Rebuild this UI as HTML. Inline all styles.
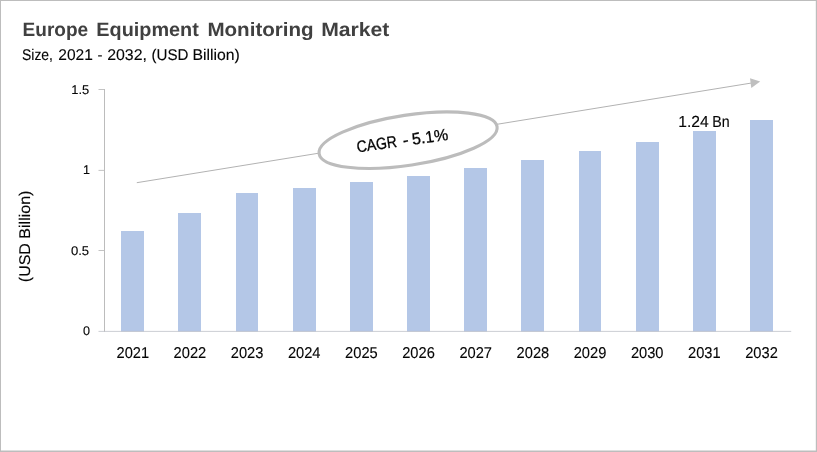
<!DOCTYPE html>
<html><head><meta charset="utf-8"><title>Europe Equipment Monitoring Market</title>
<style>
html,body{margin:0;padding:0;background:#fff;}
body{width:817px;height:452px;overflow:hidden;font-family:"Liberation Sans",sans-serif;}
svg{display:block;font-family:"Liberation Sans",sans-serif;text-rendering:geometricPrecision;}
text{stroke:#050505;stroke-width:0.12px;}
text.cagr{stroke-width:0.3px;}
text.ttl{stroke:none;}
</style></head><body>
<svg width="817" height="452" viewBox="0 0 817 452">
<rect x="0" y="0" width="817" height="452" fill="#ffffff"/>
<!-- frame -->
<rect x="0" y="0" width="817" height="1" fill="#bdbdbd"/>
<rect x="0" y="0" width="1" height="452" fill="#bdbdbd"/>
<rect x="815.8" y="0" width="1.2" height="452" fill="#bdbdbd"/>
<rect x="0" y="450.5" width="817" height="1.5" fill="#bdbdbd"/>
<!-- titles -->
<text class="ttl" y="36.1" font-size="19.4" font-weight="bold" fill="#404040"><tspan x="22.6" textLength="65.6" lengthAdjust="spacingAndGlyphs">Europe</tspan> <tspan x="96.3" textLength="102.5" lengthAdjust="spacingAndGlyphs">Equipment</tspan> <tspan x="207.4" textLength="106.3" lengthAdjust="spacingAndGlyphs">Monitoring</tspan> <tspan x="321.2" textLength="68.2" lengthAdjust="spacingAndGlyphs">Market</tspan></text>
<text y="59.5" font-size="15.5" fill="#050505"><tspan x="22" textLength="31" lengthAdjust="spacingAndGlyphs">Size,</tspan> <tspan x="58.3" textLength="34.6" lengthAdjust="spacingAndGlyphs">2021</tspan> <tspan x="97.6" textLength="5" lengthAdjust="spacingAndGlyphs">-</tspan> <tspan x="107.2" textLength="39.8" lengthAdjust="spacingAndGlyphs">2032,</tspan> <tspan x="151.5" textLength="37" lengthAdjust="spacingAndGlyphs">(USD</tspan> <tspan x="192.4" textLength="47.3" lengthAdjust="spacingAndGlyphs">Billion)</tspan></text>
<!-- arrow line -->
<line x1="136.8" y1="182.7" x2="751" y2="83.1" stroke="#b2b2b2" stroke-width="1"/>
<polygon points="760.2,81.5 750,78.3 751.3,87.9" fill="#bfbfbf"/>
<!-- bars -->
<rect x="121" y="231" width="23" height="100.6" fill="#b4c7e7"/>
<rect x="178" y="213" width="23" height="118.6" fill="#b4c7e7"/>
<rect x="236" y="193" width="22" height="138.6" fill="#b4c7e7"/>
<rect x="293" y="188" width="23" height="143.6" fill="#b4c7e7"/>
<rect x="350" y="182" width="23" height="149.6" fill="#b4c7e7"/>
<rect x="407" y="176" width="23" height="155.6" fill="#b4c7e7"/>
<rect x="464" y="168" width="23" height="163.6" fill="#b4c7e7"/>
<rect x="521" y="160" width="23" height="171.6" fill="#b4c7e7"/>
<rect x="579" y="151" width="22" height="180.6" fill="#b4c7e7"/>
<rect x="636" y="142" width="23" height="189.6" fill="#b4c7e7"/>
<rect x="693" y="131" width="23" height="200.6" fill="#b4c7e7"/>
<rect x="750" y="120" width="23" height="211.6" fill="#b4c7e7"/>

<!-- axes -->
<line x1="104.5" y1="89" x2="104.5" y2="331.8" stroke="#bcbcbc" stroke-width="1"/>
<line x1="98.5" y1="331.4" x2="791.2" y2="331.4" stroke="#bfc2c8" stroke-width="0.8"/>
<line x1="98.5" y1="89.5" x2="104.5" y2="89.5" stroke="#bcbcbc" stroke-width="0.9"/>
<line x1="98.5" y1="170.4" x2="104.5" y2="170.4" stroke="#bcbcbc" stroke-width="0.9"/>
<line x1="98.5" y1="250.5" x2="104.5" y2="250.5" stroke="#bcbcbc" stroke-width="0.9"/>
<!-- y labels -->
<g font-size="12.6" fill="#050505" text-anchor="end">
<text x="89.3" y="94.2" textLength="18" lengthAdjust="spacingAndGlyphs">1.5</text>
<text x="89.9" y="174.1">1</text>
<text x="89.1" y="254.5" textLength="18.2" lengthAdjust="spacingAndGlyphs">0.5</text>
<text x="90" y="335">0</text>
</g>
<!-- x labels -->
<text x="132.8" y="358.3" text-anchor="middle" font-size="15.6" fill="#050505" textLength="32.6" lengthAdjust="spacingAndGlyphs">2021</text>
<text x="189.9" y="358.3" text-anchor="middle" font-size="15.6" fill="#050505" textLength="32.6" lengthAdjust="spacingAndGlyphs">2022</text>
<text x="247.1" y="358.3" text-anchor="middle" font-size="15.6" fill="#050505" textLength="32.6" lengthAdjust="spacingAndGlyphs">2023</text>
<text x="304.2" y="358.3" text-anchor="middle" font-size="15.6" fill="#050505" textLength="32.6" lengthAdjust="spacingAndGlyphs">2024</text>
<text x="361.4" y="358.3" text-anchor="middle" font-size="15.6" fill="#050505" textLength="32.6" lengthAdjust="spacingAndGlyphs">2025</text>
<text x="418.5" y="358.3" text-anchor="middle" font-size="15.6" fill="#050505" textLength="32.6" lengthAdjust="spacingAndGlyphs">2026</text>
<text x="475.7" y="358.3" text-anchor="middle" font-size="15.6" fill="#050505" textLength="32.6" lengthAdjust="spacingAndGlyphs">2027</text>
<text x="532.9" y="358.3" text-anchor="middle" font-size="15.6" fill="#050505" textLength="32.6" lengthAdjust="spacingAndGlyphs">2028</text>
<text x="590.0" y="358.3" text-anchor="middle" font-size="15.6" fill="#050505" textLength="32.6" lengthAdjust="spacingAndGlyphs">2029</text>
<text x="647.2" y="358.3" text-anchor="middle" font-size="15.6" fill="#050505" textLength="32.6" lengthAdjust="spacingAndGlyphs">2030</text>
<text x="704.3" y="358.3" text-anchor="middle" font-size="15.6" fill="#050505" textLength="32.6" lengthAdjust="spacingAndGlyphs">2031</text>
<text x="761.5" y="358.3" text-anchor="middle" font-size="15.6" fill="#050505" textLength="32.6" lengthAdjust="spacingAndGlyphs">2032</text>

<!-- y title -->
<text transform="translate(29.8,236.4) rotate(-90)" text-anchor="middle" font-size="15.5" fill="#050505" textLength="91.6" lengthAdjust="spacingAndGlyphs">(USD Billion)</text>
<!-- ellipse -->
<g transform="translate(408.1,140.2) rotate(-8.6)">
<ellipse cx="0" cy="0" rx="90" ry="25.1" fill="#ffffff" stroke="#bcbcbc" stroke-width="3.1"/>
</g>
<text class="cagr" transform="translate(402.5,140.3) rotate(-8)" y="5.8" font-size="16.4" fill="#050505"><tspan x="-46.2" textLength="40.4" lengthAdjust="spacingAndGlyphs">CAGR</tspan> <tspan x="0.1" textLength="5.8" lengthAdjust="spacingAndGlyphs">-</tspan> <tspan x="9.6" textLength="36.2" lengthAdjust="spacingAndGlyphs">5.1%</tspan></text>
<!-- data label -->
<text y="127" font-size="16" fill="#050505"><tspan x="678.3" textLength="30.4" lengthAdjust="spacingAndGlyphs">1.24</tspan> <tspan x="712.2" textLength="17.4" lengthAdjust="spacingAndGlyphs">Bn</tspan></text>
</svg>
</body></html>
